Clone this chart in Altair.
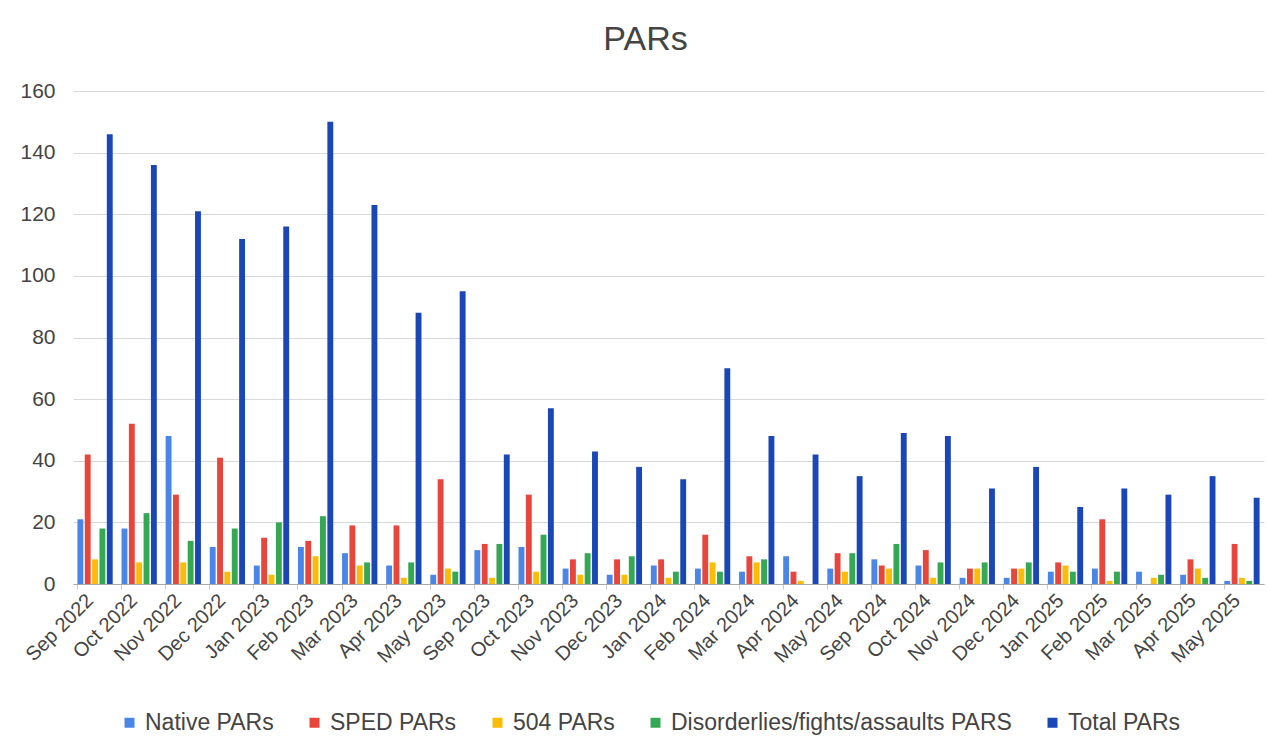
import altair as alt
import pandas as pd

months = ["Sep 2022", "Oct 2022", "Nov 2022", "Dec 2022", "Jan 2023", "Feb 2023",
          "Mar 2023", "Apr 2023", "May 2023", "Sep 2023", "Oct 2023", "Nov 2023",
          "Dec 2023", "Jan 2024", "Feb 2024", "Mar 2024", "Apr 2024", "May 2024",
          "Sep 2024", "Oct 2024", "Nov 2024", "Dec 2024", "Jan 2025", "Feb 2025",
          "Mar 2025", "Apr 2025", "May 2025"]

series_names = ["Native PARs", "SPED PARs", "504 PARs",
                "Disorderlies/fights/assaults PARS", "Total PARs"]

native = [21, 18, 48, 12, 6, 12, 10, 6, 3, 11, 12, 5, 3, 6, 5, 4, 9, 5, 8, 6, 2, 2, 4, 5, 4, 3, 1]
sped = [42, 52, 29, 41, 15, 14, 19, 19, 34, 13, 29, 8, 8, 8, 16, 9, 4, 10, 6, 11, 5, 5, 7, 21, 0, 8, 13]
s504 = [8, 7, 7, 4, 3, 9, 6, 2, 5, 2, 4, 3, 3, 2, 7, 7, 1, 4, 5, 2, 5, 5, 6, 1, 2, 5, 2]
disorder = [18, 23, 14, 18, 20, 22, 7, 7, 4, 13, 16, 10, 9, 4, 4, 8, 0, 10, 13, 7, 7, 7, 4, 4, 3, 2, 1]
total = [146, 136, 121, 112, 116, 150, 123, 88, 95, 42, 57, 43, 38, 34, 70, 48, 42, 35, 49, 48, 31, 38, 25, 31, 29, 35, 28]

colors = ["#4a86e8", "#e8453c", "#fbbc04", "#34a853", "#1a47b5"]

rows = []
for name, vals in zip(series_names, [native, sped, s504, disorder, total]):
    for m, v in zip(months, vals):
        rows.append({"Month": m, "Series": name, "Value": v})
df = pd.DataFrame(rows)

FONT = "Liberation Sans"
TXT = "#444444"

chart = alt.Chart(df).mark_bar().encode(
    x=alt.X("Month:N", sort=months,
            scale=alt.Scale(paddingInner=0.2, paddingOuter=0.1),
            axis=alt.Axis(title=None, labelAngle=-45, labelFontSize=20,
                          labelColor=TXT, labelFont=FONT, labelPadding=1,
                          labelOffset=-12,
                          domainColor="#aaaaaa", tickColor="#cccccc",
                          tickSize=5, bandPosition=0, grid=False)),
    xOffset=alt.XOffset("Series:N", sort=series_names,
                        scale=alt.Scale(paddingInner=0.2)),
    y=alt.Y("Value:Q", scale=alt.Scale(domain=[0, 160]),
            axis=alt.Axis(title=None, values=[0, 20, 40, 60, 80, 100, 120, 140, 160],
                          labelFontSize=21, labelColor=TXT, labelFont=FONT,
                          labelPadding=18, domain=False, ticks=False,
                          gridColor="#d9d9d9")),
    color=alt.Color("Series:N", sort=series_names,
                    scale=alt.Scale(domain=series_names, range=colors),
                    legend=alt.Legend(title=None, orient="none", direction="horizontal",
                                      legendX=45, legendY=620,
                                      symbolType="square", symbolSize=100,
                                      symbolStrokeWidth=0,
                                      labelFontSize=23, labelColor=TXT, labelFont=FONT,
                                      columnPadding=29, labelLimit=600)),
).properties(
    width=1191,
    height=493,
    title=alt.TitleParams("PARs", fontSize=34, font=FONT, color=TXT,
                          fontWeight="normal", anchor="middle", dx=-23, offset=23),
    autosize=alt.AutoSizeParams(type="none"),
    padding={"left": 73, "top": 91, "right": 4, "bottom": 165},
).configure(background="white", view=alt.ViewConfig(stroke=None))

chart.save("out.html", embed_options={"renderer": "svg", "actions": False})
